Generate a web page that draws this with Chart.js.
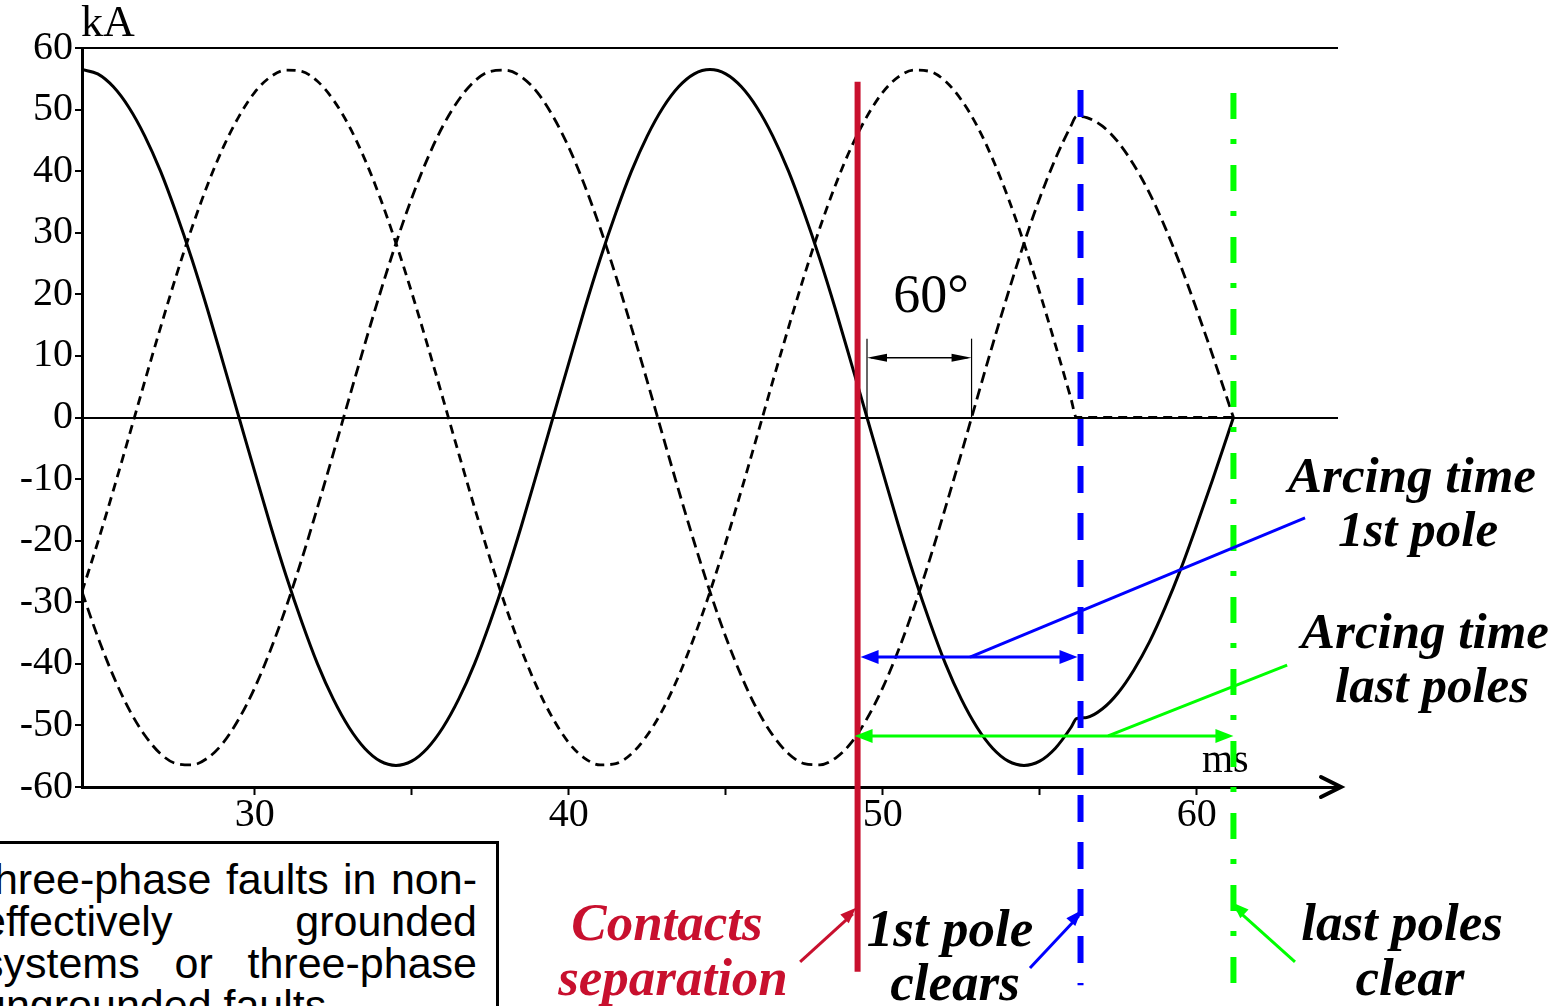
<!DOCTYPE html>
<html>
<head>
<meta charset="utf-8">
<script src="https://cdn.jsdelivr.net/npm/chart.js@4.4.1/dist/chart.umd.min.js"></script>
<style>
    html, body { margin: 0; padding: 0; background: #fff; overflow: hidden; }
    #wrap { position: relative; width: 1568px; height: 1006px; }
    #note {
        position: absolute; left: -40px; top: 841px; width: 539px; height: 200px;
        border: 3px solid #000; box-sizing: border-box; background: #fff;
    }
    #noteText {
        position: absolute; left: 19px; top: 14px; width: 495px;
        font-family: 'Liberation Sans', Arial, sans-serif; font-size: 43px; line-height: 42px; color: #000;
    }
    .jl { text-align: justify; text-align-last: justify; }
</style>
</head>
<body>
<div id="wrap">
    <canvas id="faultChart" width="1568" height="1006"></canvas>
    <div id="note">
        <div id="noteText">
            <div class="jl">three-phase faults in non-</div>
            <div class="jl">effectively grounded</div>
            <div class="jl">systems or three-phase</div>
            <div>ungrounded faults</div>
        </div>
    </div>
</div>
<script>
// time in ms, currents in kA
const timeMs = [
    24.5, 25, 25.5, 26, 26.5, 27, 27.5, 28, 28.5, 29, 29.5, 30, 30.5, 31, 31.5, 32,
    32.5, 33, 33.5, 34, 34.5, 35, 35.5, 36, 36.5, 37, 37.5, 38, 38.5, 39, 39.5, 40,
    40.5, 41, 41.5, 42, 42.5, 43, 43.5, 44, 44.5, 45, 45.5, 46, 46.5, 47, 47.5, 48,
    48.5, 49, 49.5, 50, 50.5, 51, 51.5, 52, 52.5, 53, 53.5, 54, 54.5, 55, 55.5, 56,
    56.17, 56.5, 57, 57.5, 58, 58.5, 59, 59.5, 60, 60.5, 61, 61.17
];
const phaseA = [
    56.5, 55.8, 53.7, 50.3, 45.7, 40.0, 33.2, 25.7, 17.5, 8.8,
    0, -8.8, -17.5, -25.7, -33.2, -40.0, -45.7, -50.3, -53.7, -55.8,
    -56.5, -55.8, -53.7, -50.3, -45.7, -40.0, -33.2, -25.7, -17.5, -8.8,
    0, 8.8, 17.5, 25.7, 33.2, 40.0, 45.7, 50.3, 53.7, 55.8,
    56.5, 55.8, 53.7, 50.3, 45.7, 40.0, 33.2, 25.7, 17.5, 8.8,
    0, -8.8, -17.5, -25.7, -33.2, -40.0, -45.7, -50.3, -53.7, -55.8,
    -56.5, -55.8, -53.7, -50.3,
    -48.9, -48.7, -47.3, -44.7, -41.0, -36.4, -30.8, -24.5, -17.5, -10.2, -2.6, 0
];
const phaseB = [
    -28.3, -35.6, -42.0, -47.4, -51.6, -54.6, -56.2, -56.4, -55.3, -52.8,
    -48.9, -43.9, -37.8, -30.8, -23.0, -14.6, -5.9, 3.0, 11.8, 20.3,
    28.3, 35.6, 42.0, 47.4, 51.6, 54.6, 56.2, 56.4, 55.3, 52.8,
    48.9, 43.9, 37.8, 30.8, 23.0, 14.6, 5.9, -3.0, -11.8, -20.3,
    -28.3, -35.6, -42.0, -47.4, -51.6, -54.6, -56.2, -56.4, -55.3, -52.8,
    -48.9, -43.9, -37.8, -30.8, -23.0, -14.6, -5.9, 3.0, 11.8, 20.3,
    28.3, 35.6, 42.0, 47.4,
    48.9, 48.7, 47.3, 44.7, 41.0, 36.4, 30.8, 24.5, 17.5, 10.2, 2.6, 0
];
const phaseC = [
    -28.3, -20.3, -11.8, -3.0, 5.9, 14.6, 23.0, 30.8, 37.8, 43.9,
    48.9, 52.8, 55.3, 56.4, 56.2, 54.6, 51.6, 47.4, 42.0, 35.6,
    28.3, 20.3, 11.8, 3.0, -5.9, -14.6, -23.0, -30.8, -37.8, -43.9,
    -48.9, -52.8, -55.3, -56.4, -56.2, -54.6, -51.6, -47.4, -42.0, -35.6,
    -28.3, -20.3, -11.8, -3.0, 5.9, 14.6, 23.0, 30.8, 37.8, 43.9,
    48.9, 52.8, 55.3, 56.4, 56.2, 54.6, 51.6, 47.4, 42.0, 35.6,
    28.3, 20.3, 11.8, 3.0,
    0, 0, 0, 0, 0, 0, 0, 0, 0, 0, 0, 0
];
const yTicks = [-60, -50, -40, -30, -20, -10, 0, 10, 20, 30, 40, 50, 60];
const xTicks = [30, 35, 40, 45, 50, 55, 60];
const xLabels = [30, 40, 50, 60];

// events (ms)
const separationMs = 49.2;
const firstPoleMs = 56.3;
const lastPolesMs = 61.17;
// 60 degree bracket between two zero crossings (ms)
const bracketMs = [49.5, 52.83];

const SERIF = '"Liberation Serif", "Times New Roman", serif';
const RED = '#c8102e';
const BLUE = '#0000ff';
const GREEN = '#00ff00';

function toPoints(values) {
    return values.map((v, i) => ({ x: timeMs[i], y: v }));
}

function headAt(ctx, x1, y1, x2, y2, len, half, color) {
    const a = Math.atan2(y2 - y1, x2 - x1);
    const c = Math.cos(a), s = Math.sin(a);
    ctx.fillStyle = color;
    ctx.beginPath();
    ctx.moveTo(x2, y2);
    ctx.lineTo(x2 - len * c + half * s, y2 - len * s - half * c);
    ctx.lineTo(x2 - len * c - half * s, y2 - len * s + half * c);
    ctx.closePath();
    ctx.fill();
}

function segment(ctx, x1, y1, x2, y2, color, width, dash) {
    ctx.save();
    ctx.strokeStyle = color;
    ctx.lineWidth = width;
    ctx.setLineDash(dash || []);
    ctx.beginPath();
    ctx.moveTo(x1, y1);
    ctx.lineTo(x2, y2);
    ctx.stroke();
    ctx.restore();
}

function text(ctx, str, x, y, color, font) {
    ctx.font = font;
    ctx.fillStyle = color;
    ctx.textAlign = 'center';
    ctx.textBaseline = 'alphabetic';
    ctx.fillText(str, x, y);
}

const annotations = {
    id: 'annotations',
    afterDraw(chart) {
        const ctx = chart.ctx;
        const xs = chart.scales.x, ys = chart.scales.y;
        const px = t => xs.getPixelForValue(t);
        const py = v => ys.getPixelForValue(v);
        ctx.save();

        // 60 degree bracket
        const b1 = px(bracketMs[0]), b2 = px(bracketMs[1]);
        segment(ctx, b1, py(0), b1, py(12.8), '#000', 1.2);
        segment(ctx, b2, py(0), b2, py(12.8), '#000', 1.2);
        segment(ctx, b1 + 4, py(9.7), b2 - 4, py(9.7), '#000', 1.5);
        headAt(ctx, b2, py(9.7), b1, py(9.7), 20, 4, '#000');
        headAt(ctx, b1, py(9.7), b2, py(9.7), 20, 4, '#000');
        text(ctx, '60°', 931, 312, '#000', `54px ${SERIF}`);

        // axis units
        ctx.textAlign = 'left';
        ctx.font = `44px ${SERIF}`;
        ctx.fillStyle = '#000';
        ctx.fillText('kA', 81, 36);
        ctx.font = `40px ${SERIF}`;
        ctx.fillText('ms', 1202, 772);

        // x axis arrow
        const tipX = px(xs.max) + 3, axisY = chart.chartArea.bottom;
        ctx.save();
        ctx.strokeStyle = '#000';
        ctx.lineWidth = 4;
        ctx.lineCap = 'round';
        ctx.beginPath();
        ctx.moveTo(tipX - 20, axisY - 10);
        ctx.lineTo(tipX, axisY);
        ctx.lineTo(tipX - 20, axisY + 10);
        ctx.stroke();
        ctx.restore();

        // labels
        const bi = `italic bold 51px ${SERIF}`;
        const bi2 = `italic bold 53px ${SERIF}`;
        text(ctx, 'Arcing time', 1412, 492, '#000', bi);
        text(ctx, '1st pole', 1418, 546, '#000', bi);
        text(ctx, 'Arcing time', 1425, 648, '#000', bi);
        text(ctx, 'last poles', 1432, 702, '#000', bi);
        text(ctx, 'Contacts', 667, 940, RED, bi2);
        text(ctx, 'separation', 673, 995, RED, bi2);
        text(ctx, '1st pole', 950, 946, '#000', bi2);
        text(ctx, 'clears', 955, 1000, '#000', bi2);
        text(ctx, 'last poles', 1402, 940, '#000', bi2);
        text(ctx, 'clear', 1410, 995, '#000', bi2);

        // event lines
        const xr = px(separationMs), xb = px(firstPoleMs), xg = px(lastPolesMs);
        segment(ctx, xr, py(54.5), xr, py(-90), RED, 6);
        segment(ctx, xb, py(53.2), xb, py(-92.2), BLUE, 6, [27, 20]);
        segment(ctx, xg, py(52.7), xg, py(-92.2), GREEN, 6, [26, 20, 5, 21]);

        // arcing time arrows
        const ya = py(-38.9), yg = py(-51.7);
        segment(ctx, xr + 12, ya, xb - 12, ya, BLUE, 3);
        headAt(ctx, xb, ya, xr + 3, ya, 18, 7, BLUE);
        headAt(ctx, xr, ya, xb - 3, ya, 18, 7, BLUE);
        segment(ctx, px(52.78), ya, px(63.45), py(-16.3), BLUE, 3);

        segment(ctx, xr + 12, yg, xg - 12, yg, GREEN, 3);
        headAt(ctx, xg, yg, xr - 3, yg, 18, 7, GREEN);
        headAt(ctx, xr, yg, xg, yg, 18, 7, GREEN);
        segment(ctx, px(57.18), yg, px(62.88), py(-40.2), GREEN, 3);

        // pointer arrows under the plot
        segment(ctx, px(47.37), py(-88.4), px(49.05), py(-80.6), RED, 3);
        headAt(ctx, px(47.37), py(-88.4), px(49.15), py(-79.6), 16, 6, RED);
        segment(ctx, px(54.69), py(-89.4), px(56.25), py(-80.9), BLUE, 3);
        headAt(ctx, px(54.69), py(-89.4), px(56.33), py(-80.0), 16, 6, BLUE);
        segment(ctx, px(63.13), py(-88.4), px(61.25), py(-79.8), GREEN, 3);
        headAt(ctx, px(63.13), py(-88.4), px(61.15), py(-78.8), 16, 6, GREEN);

        ctx.restore();
    }
};

const gridColor = c => (c.tick && (c.tick.value === 0 || c.tick.value === 60)) ? '#000' : 'rgba(0,0,0,0)';

new Chart(document.getElementById('faultChart').getContext('2d'), {
    type: 'line',
    data: {
        datasets: [
            {
                label: 'Phase A',
                data: toPoints(phaseA),
                borderColor: '#000',
                borderWidth: 3,
                pointRadius: 0,
                cubicInterpolationMode: 'monotone',
                fill: false
            },
            {
                label: 'Phase B',
                data: toPoints(phaseB),
                borderColor: '#000',
                borderWidth: 2.8,
                borderDash: [11, 6],
                pointRadius: 0,
                cubicInterpolationMode: 'monotone',
                fill: false
            },
            {
                label: 'Phase C',
                data: toPoints(phaseC),
                borderColor: '#000',
                borderWidth: 2.8,
                borderDash: [9, 6],
                pointRadius: 0,
                cubicInterpolationMode: 'monotone',
                fill: false
            }
        ]
    },
    options: {
        responsive: false,
        animation: false,
        devicePixelRatio: 1,
        layout: { padding: { top: 48, right: 230, left: 0, bottom: 0 } },
        plugins: {
            legend: { display: false },
            tooltip: { enabled: false }
        },
        scales: {
            x: {
                type: 'linear',
                min: 24.5,
                max: 64.5,
                afterFit: s => { s.height = 219; },
                afterBuildTicks: s => { s.ticks = xTicks.map(v => ({ value: v })); },
                ticks: {
                    autoSkip: false,
                    maxRotation: 0,
                    padding: -4,
                    color: '#000',
                    font: { family: SERIF, size: 40 },
                    callback: v => xLabels.includes(v) ? String(v) : ''
                },
                grid: {
                    drawOnChartArea: false,
                    drawTicks: true,
                    tickLength: 8,
                    tickWidth: 2,
                    tickColor: '#000',
                    color: '#000'
                },
                border: { display: true, color: '#000', width: 3 }
            },
            y: {
                min: -60,
                max: 60,
                afterFit: s => { s.width = 82; },
                afterBuildTicks: s => { s.ticks = yTicks.map(v => ({ value: v })); },
                ticks: {
                    padding: 2,
                    color: '#000',
                    font: { family: SERIF, size: 40 }
                },
                grid: {
                    color: gridColor,
                    lineWidth: 2,
                    tickColor: '#000',
                    tickLength: 7,
                    tickWidth: 2
                },
                border: { display: true, color: '#000', width: 3 }
            }
        }
    },
    plugins: [annotations]
});
</script>
</body>
</html>
